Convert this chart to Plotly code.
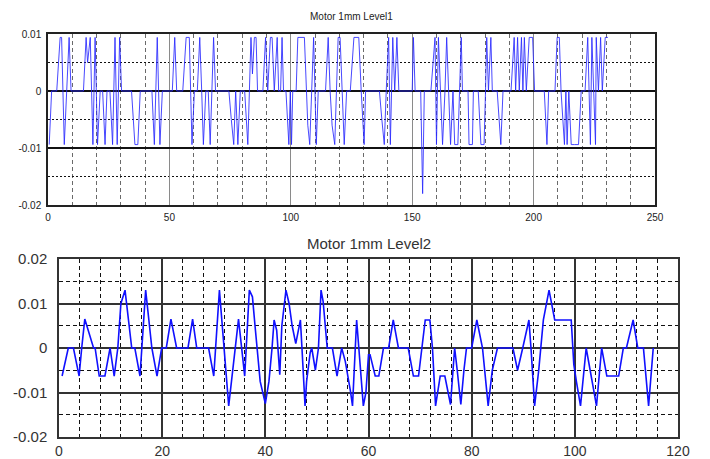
import plotly.graph_objects as go

# ---------------- data ----------------
# Level1 (top): breakpoints (sample index, value in units of 1e-3)
top_x = [0.5, 1.5, 3.6, 5, 5.6, 6.7, 8.7, 9.5, 14.6, 15.7, 16.3, 17.4, 18.5, 19.4, 20.4, 21.5, 22.5, 23.5, 24.3,
         25.5, 26.6, 27.6, 28.5, 29.5, 30.3, 34.4, 35.8, 37, 38, 42.8, 43.8, 45, 46.1, 47.1, 51.2, 52.2, 53,
         55.5, 56.9, 58.2, 59.3, 60.3, 61.5, 62.5, 63.3, 64, 65, 66, 66.8, 67.5, 68.2, 69, 74.5, 75.5, 76.5,
         77.3, 78.2, 79.2, 81, 82.3, 83.6, 84.2, 85, 85.7, 86.3, 88.5, 89.6, 90.5, 91.6, 92.3, 93.2, 94.4, 95,
         95.8, 96.4, 97, 98, 99.2, 99.8, 100.3, 100.8, 102.2, 102.9, 105.6, 106.3, 107, 107.8, 108.5, 109.4,
         110.5, 111.3, 114.3, 115.4, 116.2, 117, 118.1, 119.5, 120.3, 121.3, 122, 123, 124.5, 126, 128, 129,
         130.2, 130.8, 136.5, 137.5, 138.5, 139.3, 140.3, 141, 142, 142.8, 143.7, 144.5, 150, 150.5, 151.2,
         153.5, 154.3, 155, 157.7, 159.4, 160, 160.8, 161.5, 162.5, 163.5, 164.2, 165, 165.8, 166.8, 167.5,
         168.8, 169.5, 170.2, 170.7, 173, 173.4, 174.8, 175.2, 177.2, 178.3, 179.6, 180.2, 180.7, 181.4, 182.4,
         183, 185, 186.5, 187.4, 190.7, 192, 192.6, 193.4, 194.1, 195, 195.6, 196.2, 197, 198.2, 199.6, 200.4,
         204.4, 205.5, 206.2, 208.8, 209.7, 210.6, 211.3, 212.7, 213.3, 213.8, 214.5, 215.5, 216.8, 218.5,
         219.6, 221.2, 222.3, 223.4, 224, 224.8, 225.5, 225.8, 226.7, 227.6, 228.3, 229.5, 230.6]
top_y_milli = [-9.4, 0, 0, 9.4, 9.4, -9.4, 9.4, 0, 0, 9.4, 5, 9.4, -9.4, 9.4, -9.4, 0, 0, -9.4, 0,
               0, -9.4, 9.4, -9.4, 9.4, 0, 0, -9.4, -9.4, 0, 0, -9.4, 9.4, -9.4, 0, 0, 9.4, 0,
               0, 9.4, 9.4, -9.4, 0, 0, 9.4, 0, -9.4, 0, 0, -9.4, 0, 9.4, 0, 0, -5, -9.4,
               0, -9.4, 0, 0, -9.4, 9.4, 3, 9.4, 9.4, 0, 0, 9.4, 0, 9.4, 9.4, 0, 9.4, 0,
               0, 9.4, 0, 0, -9.4, 0, -9.4, 0, 0, 9.4, 9.4, 0, -6, -9.4, 0, 9.4,
               -9.4, 0, 0, 9.4, 0, -6, -9.4, 9.4, 9.4, 0, -9.4, 0, 0, 9.4, 9.4, 0,
               -9.4, 0, 0, -5, -9.4, 0, 9.4, -9.4, 9.4, 0, 9.4, 0, 0, 9.4, 0,
               0, -18, 0, 0, 9.4, -9.4, 9.4, 0, -9.4, 0, 9.4, 0, -9.4, 0, -9.4,
               -9.4, 0, 9.4, 0, 0, -9.4, -9.4, 0, 0, -9.4, -9.4, 0, 9.4, 0, 9.4,
               0, 0, -9.4, 0, 0, 9.4, 0, 9.4, 0, 9.4, 0, 9.4, 0, 9.4, 9.4, 0,
               0, -9.4, 0, 0, 9.4, 9.4, 0, -9.4, 0, -9.4, 0, -9.4, -9.4, -9.4,
               0, 0, 9.4, -9.4, 9.4, 0, -9.4, 9.4, 0, 9.4, 0, 9.4, 9.4]

# Level2 (bottom): breakpoints (sample index, value in units of 1e-3)
bot_x = [0.6, 1.8, 2.8, 3.9, 4.4, 5.0, 6.7, 7.0, 7.8, 8.9, 9.9, 10.7, 11.4, 12.0, 12.8, 14.1, 14.7, 15.7, 16.8,
         18.0, 19.0, 19.9, 20.8, 21.7, 22.8, 25.0, 25.9, 26.7, 29.0, 30.0, 31.1, 32.9, 34.8, 36.0, 36.9, 37.5,
         38, 39, 40, 40.7, 41.3, 41.7, 42.2, 42.8, 43.2, 44.0, 44.6, 45.2, 45.9, 46.8, 47.1, 47.7, 48.0, 48.7,
         49.0, 49.7, 50.3, 50.8, 51.2, 52.0, 53.0, 53.9, 54.8, 55.5, 56.5, 56.9, 57.7, 58.3, 59.0, 59.5, 60,
         60.3, 61.3, 62.0, 62.9, 63.9, 64.8, 65.8, 67.7, 68.7, 69.7, 71.0, 71.9, 72.4, 73.0, 73.9, 74.8, 75.9,
         76.3, 76.7, 77.2, 77.9, 78.5, 79.0, 80.0, 81.0, 82.1, 83.2, 84.0, 85.0, 88.0, 88.9, 89.9, 91.1, 91.5,
         92.2, 93.0, 93.9, 95.0, 96.1, 99.3, 99.8, 100.3, 101.1, 102.2, 103.3, 104.2, 105.2, 106.2, 108.5,
         109.4, 110.0, 111.3, 112.2, 113.3, 114.3, 115.2]
bot_y_milli = [-6.3, 0, 0, -6.3, 0, 6.5, 0, 0, -6.3, -6.3, 0, -6.3, 0, 10, 13, 0, 0, -6.3, 13,
               0, -6.3, 0, 0, 6.5, 0, 0, 6.5, 0, 0, -6.3, 13, -13, 6.5, -6.3, 13, 11.5,
               5, -7.5, -12.5, -7.5, 0, 6.3, 4, -6, 5, 13, 10, 5, 1, 6.3, 0, -13, -7.5, -1,
               0, -5, 0, 13, 10.5, 0, 0, -6.3, 0, -3, -9.7, -13, 6.3, -3, -13, -10, -1.5,
               -1.5, -6.3, -6.3, 0, 0, 6.3, 0, 0, -6.3, -6.3, 6.3, 6.3, 0, -13, -6.3, -6.3, -12.7,
               -5, 0, -5, -12.7, -5, 0, 0, 6.3, 0, -13, -5, 0, 0, -5, 0, 6.3, 0,
               -13, -5, 6.3, 13, 6.3, 6.3, -3.7, -7.5, -13, 0, -7.5, -13, 0, -6.3, -6.3,
               0, 0, 6.3, 0, 0, -13, 0]

top_title = "Motor 1mm Level1"
bot_title = "Motor 1mm Level2"
top_xticks = [0, 50, 100, 150, 200, 250]
top_yticks = [0.01, 0, -0.01, -0.02]
bot_xticks = [0, 20, 40, 60, 80, 100, 120]
bot_yticks = [0.02, 0.01, 0, -0.01, -0.02]

top_y = [v * 1e-3 for v in top_y_milli]
bot_y = [v * 1e-3 for v in bot_y_milli]

# ---------------- figure ----------------
W, H = 710, 459
fig = go.Figure()
fig.add_trace(go.Scatter(x=top_x, y=top_y, mode="lines", xaxis="x", yaxis="y",
                         line=dict(color="rgba(40,40,255,0.85)", width=1), showlegend=False,
                         hoverinfo="skip"))
fig.add_trace(go.Scatter(x=bot_x, y=bot_y, mode="lines", xaxis="x2", yaxis="y2",
                         line=dict(color="#1010ff", width=1.6), showlegend=False,
                         hoverinfo="skip"))

narrow = "Liberation Sans Narrow, Liberation Sans, Arial"
sans = "Liberation Sans, Arial"

def px_x(p):
    return p / W

def px_y(p):
    return 1 - p / H

fig.update_layout(
    width=W, height=H,
    margin=dict(l=0, r=0, t=0, b=0, autoexpand=False),
    paper_bgcolor="white", plot_bgcolor="white",
    showlegend=False,
    xaxis=dict(domain=[px_x(48), px_x(655)], range=[0, 250], anchor="y", automargin=False,
               tickvals=top_xticks, ticktext=[str(v) for v in top_xticks],
               showgrid=True, gridcolor="#8a8a8a", gridwidth=1,
               minor=dict(dtick=10, showgrid=True, gridcolor="#6a6a6a", griddash="4px,3px", gridwidth=1),
               zeroline=False, showline=True, linecolor="#222", linewidth=1.5, mirror=True,
               ticks="", ticklabelstandoff=2, tickfont=dict(family=narrow, size=10, color="#222")),
    yaxis=dict(domain=[px_y(205), px_y(34)], range=[-0.02, 0.01], anchor="x", automargin=False,
               tickvals=top_yticks, ticktext=["0.01", "0", "-0.01", "-0.02"],
               showgrid=True, gridcolor="#111", gridwidth=1.5,
               minor=dict(dtick=0.005, showgrid=True, gridcolor="#111", griddash="2px,2px", gridwidth=1),
               zeroline=False, showline=True, linecolor="#222", linewidth=1.5, mirror=True,
               ticks="", ticklabelstandoff=3, tickfont=dict(family=narrow, size=10, color="#222")),
    xaxis2=dict(domain=[px_x(59), px_x(678)], range=[0, 120], anchor="y2", automargin=False,
                tickvals=bot_xticks, ticktext=[str(v) for v in bot_xticks],
                showgrid=True, gridcolor="#333", gridwidth=1.5,
                minor=dict(dtick=4, showgrid=True, gridcolor="#111", griddash="4px,3px", gridwidth=1.3),
                zeroline=False, showline=True, linecolor="#333", linewidth=1.5, mirror=True,
                ticks="", ticklabelstandoff=0, tickfont=dict(family=sans, size=14, color="#333")),
    yaxis2=dict(domain=[px_y(437), px_y(259)], range=[-0.02, 0.02], anchor="x2", automargin=False,
                tickvals=bot_yticks, ticktext=["0.02", "0.01", "0", "-0.01", "-0.02"],
                showgrid=True, gridcolor="#333", gridwidth=1.5,
                minor=dict(dtick=0.005, showgrid=True, gridcolor="#111", griddash="4px,3px", gridwidth=1.3),
                zeroline=False, showline=True, linecolor="#333", linewidth=1.5, mirror=True,
                ticks="", ticklabelstandoff=7, tickfont=dict(family=sans, size=15, color="#333")),
    annotations=[
        dict(text=top_title, x=(px_x(48) + px_x(655)) / 2, y=px_y(17), xref="paper", yref="paper",
             showarrow=False, font=dict(family=narrow, size=10, color="#222"), xanchor="center", yanchor="middle"),
        dict(text=bot_title, x=(px_x(59) + px_x(678)) / 2, y=px_y(243), xref="paper", yref="paper",
             showarrow=False, font=dict(family=sans, size=15, color="#333"), xanchor="center", yanchor="middle"),
    ],
)

fig.write_html(
    "out.html",
    config={"displayModeBar": False},
    post_script="document.body.style.margin='0';document.body.style.padding='0';"
                "document.documentElement.style.overflow='hidden';",
)
